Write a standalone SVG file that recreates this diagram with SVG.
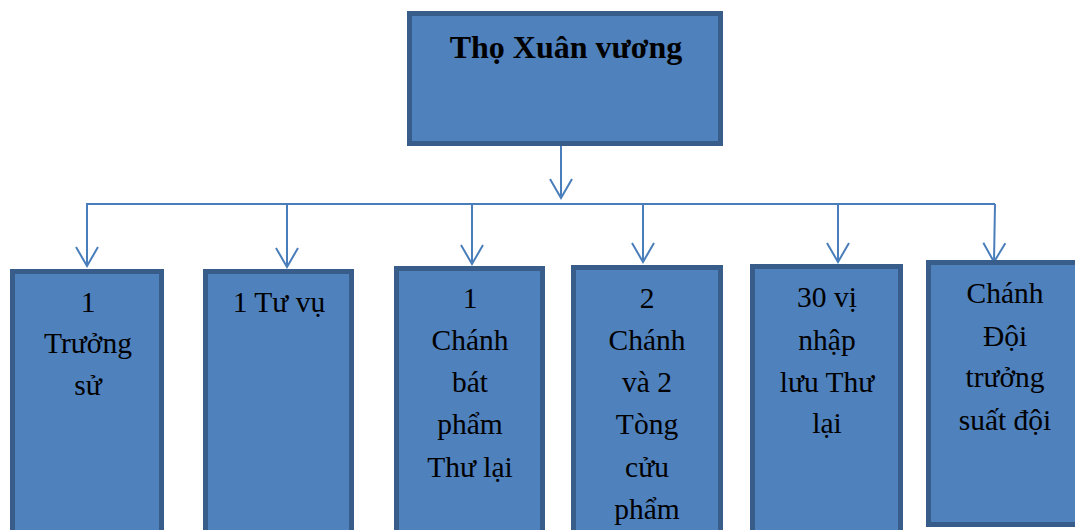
<svg xmlns="http://www.w3.org/2000/svg" width="1075" height="530" viewBox="0 0 1075 530">
<style>
.box{fill:#4F81BD;stroke:#385D8A;stroke-width:5}
.t{font-family:"Liberation Serif","Times New Roman",serif;font-size:29.5px;fill:#000;text-anchor:middle}
.tb{font-family:"Liberation Serif","Times New Roman",serif;font-size:32px;font-weight:bold;fill:#000;text-anchor:middle}
.c{fill:none;stroke:#4A7EBB;stroke-width:2}
</style>
<defs>
<marker id="arr" markerUnits="userSpaceOnUse" orient="auto" refX="0" refY="0" markerWidth="30" markerHeight="30" overflow="visible">
<path d="M-19,-11 L0,0 L-19,11" fill="none" stroke="#4A7EBB" stroke-width="2"/>
</marker>
</defs>
<rect width="1075" height="530" fill="#fff"/>
<g id="connectors">
<line class="c" x1="561" y1="146" x2="561" y2="198" marker-end="url(#arr)"/>
<polyline class="c" points="87,266 87,204 995,204"/>
<line class="c" x1="87" y1="204" x2="87" y2="266" marker-end="url(#arr)"/>
<line class="c" x1="287" y1="204" x2="287" y2="267" marker-end="url(#arr)"/>
<line class="c" x1="472" y1="204" x2="472" y2="264" marker-end="url(#arr)"/>
<line class="c" x1="643" y1="204" x2="643" y2="262" marker-end="url(#arr)"/>
<line class="c" x1="838" y1="204" x2="838" y2="262" marker-end="url(#arr)"/>
<line class="c" x1="995" y1="204" x2="994" y2="262" marker-end="url(#arr)"/>
</g>
<g id="top">
<rect class="box" x="409.5" y="13.5" width="311" height="130"/>
<text class="tb" x="566" y="58">Thọ Xuân vương</text>
</g>
<g id="n1">
<rect class="box" x="12.5" y="271.5" width="149" height="270"/>
<text class="t" x="88" y="312">1</text>
<text class="t" x="88" y="353">Trưởng</text>
<text class="t" x="88" y="395">sử</text>
</g>
<g id="n2">
<rect class="box" x="205.5" y="271.5" width="146" height="270"/>
<text class="t" x="279" y="312">1 Tư vụ</text>
</g>
<g id="n3">
<rect class="box" x="396.5" y="268.5" width="146" height="270"/>
<text class="t" x="470" y="308">1</text>
<text class="t" x="470" y="350">Chánh</text>
<text class="t" x="470" y="392">bát</text>
<text class="t" x="470" y="434">phẩm</text>
<text class="t" x="470" y="477">Thư lại</text>
</g>
<g id="n4">
<rect class="box" x="573.5" y="267.5" width="147" height="270"/>
<text class="t" x="647" y="308">2</text>
<text class="t" x="647" y="350">Chánh</text>
<text class="t" x="647" y="392">và 2</text>
<text class="t" x="647" y="434">Tòng</text>
<text class="t" x="647" y="477">cửu</text>
<text class="t" x="647" y="519">phẩm</text>
</g>
<g id="n5">
<rect class="box" x="752.5" y="266.5" width="148" height="270"/>
<text class="t" x="827" y="307">30 vị</text>
<text class="t" x="827" y="350">nhập</text>
<text class="t" x="827" y="392">lưu Thư</text>
<text class="t" x="827" y="433">lại</text>
</g>
<g id="n6">
<rect class="box" x="928.5" y="262.5" width="155" height="262"/>
<text class="t" x="1005" y="303">Chánh</text>
<text class="t" x="1005" y="346">Đội</text>
<text class="t" x="1005" y="387">trưởng</text>
<text class="t" x="1005" y="430">suất đội</text>
</g>
</svg>
